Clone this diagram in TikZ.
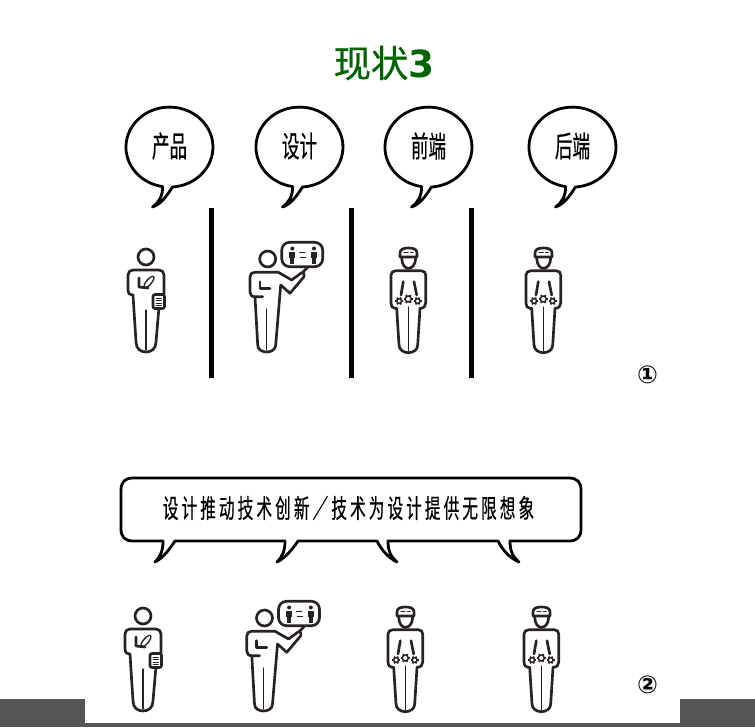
\documentclass[tikz,border=0pt]{standalone}
\usepackage{fontspec}
\usetikzlibrary{arrows.meta,positioning,calc}
\newfontfamily\cjk[FakeBold=0.6]{Noto Sans CJK SC}
\newfontfamily\cjknarrow[FakeStretch=0.6,FakeBold=0.5]{Noto Sans CJK SC}
\newfontfamily\cjkspaced[FakeStretch=0.6,LetterSpace=12,FakeBold=0.5]{Noto Sans CJK SC}
\newfontfamily\symfont{DejaVu Sans}
\definecolor{titlegreen}{RGB}{0,100,0}
\definecolor{manInk}{RGB}{40,35,33}
\definecolor{floorGrey}{RGB}{85,85,85}
\tikzset{
  bubbleline/.style={draw=black, line width=2.1pt, fill=white, line join=round},
  manline/.style={draw=manInk, line width=2pt, line cap=round, line join=round},
  manthin/.style={draw=manInk, line width=1pt, line cap=round},
  divider/.style={draw=black, line width=3.75pt},
  talkbubble/.pic={
    \draw[bubbleline] (3,40) arc[start angle=86, end angle=-261, x radius=43.5, y radius=40]
      .. controls (-7,49) and (-10,55) .. (-17,60) .. controls (-8,57) and (-3,49) .. cycle;
    \node[font=\cjknarrow\fontsize{22pt}{24pt}\selectfont] (-label) at (0,-1) {#1};
  },
  gear/.pic={
    \fill[white] (0,0) circle (#1+1);
    \draw[manline, line width=1.1pt] (0,0) circle (#1);
    \foreach \a in {0,60,...,300}
      \draw[manline, line width=1.3pt, line cap=butt] (\a:#1) -- (\a:#1+1.6);
  },
  % --- common legs ---
  productman/.pic={
    \draw[manline] (0,0) circle (8);
    \draw[manline] (-13,38) -- (-10,85) .. controls (-10,92) and (-5,95) .. (0,95)
      .. controls (5,95) and (10,92) .. (10,85) -- (13,50);
    \draw[manline] (-13,38) -- (-14,38) .. controls (-17,38) and (-18,36) .. (-18,33) -- (-18,18)
      .. controls (-18,15) and (-16,13) .. (-13,13) -- (13,13)
      .. controls (16,13) and (18,15) .. (18,18) -- (18,37);
    \draw[manline] (-7,21) -- (-7,30) -- (2,31);
    \draw[manthin, rotate around={50:(3,25)}] (3,25) ellipse (7 and 2.6);
    \draw[manthin] (0,53) -- (0,93);
    \draw[manline, fill=white, rounded corners=1.5pt] (7,37.5) rectangle (18.5,51.5);
    \foreach \y in {41,43.5,46,48.5}
      \draw[manthin, line width=0.7pt] (10,\y) -- (15.5,\y);
  },
  designerman/.pic={
    \draw[manline] (0,0) circle (8);
    \draw[manline] (-12.7,37.7) -- (-10,86) .. controls (-10,91) and (-5,93) .. (-1,93)
      .. controls (3,93) and (8,91) .. (8,86) -- (13,26) -- (22.3,34.3) -- (36.3,17.7)
      .. controls (37,14) and (35,13) .. (34,13.7) -- (24,21) -- (10.6,13.3) -- (-13,13.3)
      .. controls (-16,13.3) and (-17.7,15) .. (-17.7,18) -- (-17.7,33)
      .. controls (-17.7,36) and (-16,37.7) .. (-12.7,37.7) -- (-5,37.7);
    \draw[manline] (-7.7,22.7) -- (-7.7,29.3) -- (2.3,29.3);
    \draw[manthin] (-1,50) -- (-1,91);
    \draw[manline] (42.3,6) -- (35,13.3);
    \draw[manline, fill=white, rounded corners=6pt] (14,-16.7) rectangle (55,7.7);
    \foreach \x in {24.6,46.3} {
      \fill[manInk] (\x,-10.5) circle (2);
      \fill[manInk] (\x-3,-7.5) rectangle (\x+3,-1.5);
      \fill[manInk] (\x-2,-1.5) rectangle (\x+2,4.5);
    }
    \draw[manthin, -{Stealth[length=1.5pt]}] (32,-6.5) -- (38,-6.5);
    \draw[manthin, -{Stealth[length=1.5pt]}] (38,-1.5) -- (32,-1.5);
  },
  devman/.pic={
    \draw[manline] (-8,0) -- (-8,-4) .. controls (-8,-8) and (-4,-9) .. (0.5,-9)
      .. controls (5,-9) and (9,-8) .. (9,-4) -- (9,0) -- cycle;
    \draw[manthin, densely dashed] (-4,-4.5) -- (5,-4.5);
    \draw[manline] (-6.3,1.3) .. controls (-6,8) and (-3,11.3) .. (0.3,11.3)
      .. controls (4,11.3) and (7.4,8) .. (7.7,1.3);
    \draw[manline] (-11.3,51.3) -- (-9,88) .. controls (-9,93) and (-4,95.7) .. (0.3,95.7)
      .. controls (5,95.7) and (9.7,93) .. (9.7,88) -- (12,51.3);
    \draw[manline] (-11.3,51.3) -- (-13,51.3) .. controls (-16,51.3) and (-17,49) .. (-17,46) -- (-17,18)
      .. controls (-17,15.5) and (-15,13.7) .. (-12,13.7) -- (13,13.7)
      .. controls (16,13.7) and (17.7,15.5) .. (17.7,18) -- (17.7,46)
      .. controls (17.7,49) and (16,51.3) .. (12,51.3);
    \draw[manline] (-4.7,24.7) -- (-7,38);
    \draw[manline] (6,24.7) -- (8.7,38);
    \draw[manthin] (0.3,50) -- (0.3,94);
    \pic at (-8.9,44) {gear=2.4};
    \pic at (9.6,44) {gear=2.4};
    \pic at (0.3,42) {gear=3};
  },
}
\begin{document}
\begin{tikzpicture}[x=0.75pt, y=-0.75pt]
    \useasboundingbox (0,0) rectangle (755,727);
    % --- floor ---
    \fill[floorGrey] (0,699) rectangle (85,727);
    \fill[floorGrey] (680,699) rectangle (755,727);
    \fill[floorGrey] (85,723) rectangle (680,727);
    % --- title ---
    \node[titlegreen, font=\cjk\fontsize{28pt}{30pt}\selectfont, inner sep=0pt] (title) at (384,63)
      {现状{\symfont\bfseries 3}};
    % --- first row ---
    \pic (bubProduct) at (169.5,147) {talkbubble={产品}};
    \pic (bubDesign) at (299.5,147) {talkbubble={设计}};
    \pic (bubFront) at (428.5,147) {talkbubble={前端}};
    \pic (bubBack) at (572.5,147) {talkbubble={后端}};
    \foreach \x in {211.5,351.5,471.5}
      \draw[divider] (\x,208) -- (\x,378);
    \pic at (146,257) {productman};
    \pic at (267.7,259) {designerman};
    \pic at (408,257) {devman};
    \pic at (543,257) {devman};
    \node[font=\symfont\bfseries\fontsize{18.5pt}{20pt}\selectfont, inner sep=0pt] (mark1) at (647.5,375) {①};
    % --- second row ---
    \draw[bubbleline] (133,478) -- (569,478) .. controls (577,478) and (581,482) .. (581,490)
      -- (581,529) .. controls (581,537) and (577,541) .. (569,541)
      -- (510,541) .. controls (510,550) and (512,556) .. (519,562)
      .. controls (510,558) and (503,551) .. (498,541)
      -- (388,541) .. controls (388,550) and (390,556) .. (397,562)
      .. controls (389,558) and (382,551) .. (377,541)
      -- (298,541) .. controls (292,550) and (285,558) .. (277,562)
      .. controls (283,556) and (285,550) .. (285,541)
      -- (175,541) .. controls (169,550) and (163,558) .. (155,562)
      .. controls (161,556) and (163,550) .. (163,541)
      -- (133,541) .. controls (125,541) and (121,537) .. (121,529)
      -- (121,490) .. controls (121,482) and (125,478) .. cycle;
    \node[font=\cjkspaced\fontsize{19.5pt}{22pt}\selectfont, inner sep=0pt] (slogan) at (348.5,508)
      {设计推动技术创新／技术为设计提供无限想象};
    \pic at (143,616) {productman};
    \pic at (264.5,618) {designerman};
    \pic at (405,616) {devman};
    \pic at (541,616) {devman};
    \node[font=\symfont\bfseries\fontsize{18.5pt}{20pt}\selectfont, inner sep=0pt] (mark2) at (647.5,685) {②};
\end{tikzpicture}
\end{document}
